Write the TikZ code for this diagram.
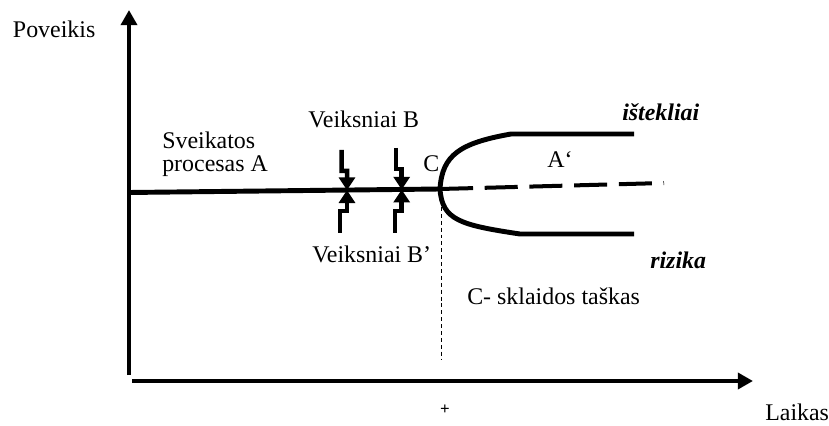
\documentclass[tikz,border=0pt]{standalone}
\usepackage{fontspec}
\setmainfont{Liberation Serif}
\usetikzlibrary{arrows.meta,positioning,calc}
\tikzset{
mylabel/.style={
  inner sep=0pt,
  anchor=base west,
  font=\fontsize{17}{16.5}\selectfont
  },
mybold/.style={
  mylabel,
  font=\fontsize{17}{16.5}\selectfont\bfseries\itshape
  },
myaxis/.style={line width=2.85pt,-{Triangle[width=4mm,length=3.8mm]}},
myproc/.style={line width=3.5pt},
myfactor/.style={line width=3.2pt,-{Triangle[width=4mm,length=3.2mm]}}
}

\begin{document}
\begin{tikzpicture}[x=0.025cm,y=-0.025cm]
  \useasboundingbox (0,0) rectangle (829,426);

  \coordinate (ytop)   at (129,10);
  \coordinate (ybot)   at (129,375);
  \coordinate (xleft)  at (132,381);
  \coordinate (xright) at (753,381);
  \draw[myaxis] (ybot) -- (ytop);
  \draw[myaxis] (xleft) -- (xright);

  \coordinate (start) at (129,192.5);
  \coordinate (c)     at (440,189);
  \coordinate (cend)  at (664,183);
  \coordinate (hit1)  at (347,190.2);
  \coordinate (hit2)  at (401.7,189.6);
  \coordinate (up1)   at (511,134);
  \coordinate (up2)   at (634,134);
  \coordinate (low1)  at (520,234);
  \coordinate (low2)  at (634,234);
  \coordinate (cdrop) at (441.7,207);
  \coordinate (cfoot) at (441.7,360);

  \draw[myproc] (start) -- (c);
  \draw[line width=2.85pt,dash pattern=on 23.5pt off 8.3pt] (c) -- (cend);
  \draw[myproc] (c) .. controls (442,155) and (460,143) .. (up1) -- (up2);
  \draw[myproc] (c) .. controls (442,220) and (460,225) .. (low1) -- (low2);
  \draw[line width=0.8pt,dash pattern=on 2.8pt off 2.1pt] (cdrop) -- (cfoot);

  \coordinate (b1top) at (341.5,150);
  \coordinate (b1bot) at (340,233);
  \coordinate (b2top) at (396,148);
  \coordinate (b2bot) at (395,233);
  \draw[myfactor] (b1top) -- ++(0,21) -- ++(5.5,0) -- (hit1);
  \draw[myfactor] (b1bot) -- ++(0,-22) -- ++(7,0) -- (hit1);
  \draw[myfactor] (b2top) -- ++(0,21) -- ++(5.7,0) -- (hit2);
  \draw[myfactor] (b2bot) -- ++(0,-22) -- ++(6.7,0) -- (hit2);

  \node[mylabel] (poveikis)  at (12.7,38) {Poveikis};
  \node[mylabel] (proca)     at (162,149) {Sveikatos};
  \node[mylabel] (procb)     at (162,172) {procesas A};
  \node[mylabel] (factb)     at (308,128) {Veiksniai B};
  \node[mylabel] (factbb)    at (312,262) {Veiksniai B’};
  \node[mylabel] (clabel)    at (423,172) {C};
  \node[mylabel] (aprime)    at (547,168) {A‘};
  \node[mybold]  (istekliai) at (622,121) {ištekliai};
  \node[mybold]  (rizika)    at (650,268) {rizika};
  \node[mylabel] (sklaida)   at (467,304) {C- sklaidos taškas};
  \node[mylabel] (laikas)    at (765,420) {Laikas};
  \node[inner sep=0pt,font=\fontsize{12}{12}\selectfont\bfseries] (plus) at (445,410) {+};
\end{tikzpicture}
\end{document}
